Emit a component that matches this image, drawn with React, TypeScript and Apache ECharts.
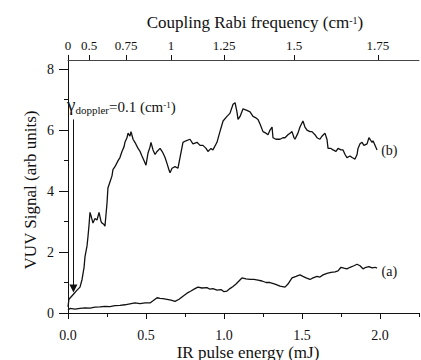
import React, { useEffect, useRef } from "react";
import * as echarts from "echarts";

// IR pulse energy (mJ) and VUV signal for trace (b)
const energyB = [0, 0.006, 0.032, 0.058, 0.077, 0.09, 0.103, 0.109, 0.122, 0.128, 0.135, 0.141, 0.147, 0.16, 0.173, 0.186, 0.199, 0.212, 0.218, 0.231, 0.237, 0.25, 0.256, 0.269, 0.282, 0.288, 0.301, 0.321, 0.333, 0.346, 0.359, 0.365, 0.378, 0.385, 0.397, 0.404, 0.417, 0.429, 0.449, 0.462, 0.474, 0.487, 0.5, 0.513, 0.526, 0.532, 0.545, 0.558, 0.571, 0.59, 0.603, 0.609, 0.622, 0.635, 0.647, 0.654, 0.667, 0.686, 0.705, 0.718, 0.737, 0.756, 0.782, 0.801, 0.827, 0.846, 0.865, 0.885, 0.897, 0.917, 0.929, 0.955, 0.974, 0.994, 1.019, 1.038, 1.058, 1.071, 1.083, 1.09, 1.103, 1.122, 1.147, 1.167, 1.186, 1.205, 1.218, 1.231, 1.25, 1.269, 1.282, 1.295, 1.308, 1.314, 1.333, 1.359, 1.378, 1.391, 1.41, 1.423, 1.436, 1.449, 1.455, 1.474, 1.487, 1.506, 1.519, 1.532, 1.551, 1.564, 1.583, 1.596, 1.615, 1.628, 1.647, 1.66, 1.667, 1.686, 1.699, 1.718, 1.731, 1.75, 1.763, 1.776, 1.788, 1.808, 1.821, 1.84, 1.853, 1.859, 1.872, 1.885, 1.897, 1.917, 1.929, 1.936, 1.949, 1.955, 1.968, 1.981];
const signalB = [0.2, 0.45, 0.6, 0.75, 0.85, 1.1, 1.5, 1.85, 2.2, 2.5, 2.9, 3.3, 3.2, 2.95, 3.1, 3.05, 3.3, 3.0, 2.95, 2.9, 2.85, 3.6, 4.1, 4.3, 4.5, 4.7, 4.8, 5.0, 5.1, 5.3, 5.45, 5.6, 5.75, 5.9, 5.8, 5.95, 5.7, 5.6, 5.4, 5.3, 5.15, 5.0, 4.85, 5.25, 5.45, 5.6, 5.35, 5.2, 5.3, 5.4, 5.3, 5.25, 5.1, 4.9, 4.7, 4.6, 4.75, 4.8, 4.75, 5.1, 5.6, 5.65, 5.7, 5.55, 5.6, 5.5, 5.5, 5.4, 5.3, 5.4, 5.35, 5.6, 5.95, 6.3, 6.45, 6.55, 6.85, 6.9, 6.6, 6.35, 6.45, 6.7, 6.65, 6.6, 6.45, 6.4, 6.35, 6.2, 5.95, 5.9, 5.85, 6.0, 6.1, 5.75, 5.7, 5.7, 5.75, 5.75, 5.85, 5.9, 5.95, 5.75, 5.7, 5.9, 6.1, 6.3, 6.1, 6.0, 5.95, 5.95, 5.85, 5.75, 5.7, 5.8, 5.9, 5.7, 5.4, 5.4, 5.35, 5.3, 5.4, 5.35, 5.35, 5.2, 5.1, 5.15, 5.1, 5.05, 5.2, 5.4, 5.55, 5.6, 5.5, 5.55, 5.75, 5.7, 5.6, 5.65, 5.5, 5.35];

// IR pulse energy (mJ) and VUV signal for trace (a)
const energyA = [0, 0.013, 0.045, 0.077, 0.109, 0.141, 0.173, 0.205, 0.237, 0.269, 0.301, 0.333, 0.365, 0.397, 0.429, 0.462, 0.494, 0.526, 0.545, 0.571, 0.59, 0.609, 0.635, 0.66, 0.686, 0.712, 0.737, 0.763, 0.788, 0.814, 0.833, 0.859, 0.891, 0.91, 0.929, 0.955, 0.981, 1.0, 1.019, 1.038, 1.058, 1.077, 1.096, 1.115, 1.141, 1.167, 1.192, 1.218, 1.244, 1.269, 1.295, 1.327, 1.359, 1.391, 1.41, 1.436, 1.462, 1.487, 1.506, 1.526, 1.551, 1.571, 1.596, 1.615, 1.635, 1.66, 1.686, 1.712, 1.731, 1.75, 1.769, 1.788, 1.808, 1.833, 1.853, 1.872, 1.891, 1.91, 1.929, 1.949, 1.968, 1.981];
const signalA = [0.1, 0.15, 0.13, 0.15, 0.17, 0.16, 0.19, 0.2, 0.22, 0.21, 0.24, 0.25, 0.27, 0.3, 0.33, 0.31, 0.33, 0.33, 0.4, 0.5, 0.48, 0.47, 0.45, 0.42, 0.38, 0.45, 0.55, 0.65, 0.72, 0.8, 0.85, 0.82, 0.83, 0.78, 0.8, 0.75, 0.77, 0.7, 0.72, 0.8, 0.87, 0.95, 1.05, 1.15, 1.12, 1.1, 1.1, 1.08, 1.05, 1.0, 1.0, 0.95, 0.88, 0.85, 0.95, 1.15, 1.2, 1.25, 1.2, 1.15, 1.1, 1.15, 1.2, 1.18, 1.25, 1.3, 1.33, 1.35, 1.38, 1.5, 1.47, 1.45, 1.5, 1.55, 1.6, 1.55, 1.45, 1.5, 1.52, 1.48, 1.5, 1.47];

// Axis ticks
const energyLabels = [0, 0.5, 1.0, 1.5, 2.0];
const energyMinorTicks = [0.25, 0.75, 1.25, 1.75, 2.25];
const signalLabels = [0, 2, 4, 6, 8];
const signalMinorTicks = [1, 3, 5, 7];
const rabiLabels = ["0", "0.5", "0.75", "1", "1.25", "1.5", "1.75"];
const rabiTickEnergy = [0, 0.135, 0.372, 0.66, 1.0, 1.449, 1.987];

// Annotations
const arrowEnergy = 0.035;
const arrowFrom = 6.35;
const arrowTo = 0.8;
const labelB = { energy: 2.06, signal: 5.33, text: "(b)" };
const labelA = { energy: 2.06, signal: 1.35, text: "(a)" };

const FONT = "Liberation Serif";
const INK = "#111";

type Piece = { text: string; size: number; dy: number };

function measure(text: string, size: number): number {
  const c = document.createElement("canvas").getContext("2d");
  if (!c) return text.length * size * 0.5;
  c.font = `${size}px "${FONT}"`;
  return c.measureText(text).width;
}

// Lays out a run of texts (sub/superscripts) from left x, baseline y
function run(pieces: Piece[], x: number, y: number, align: "left" | "center") {
  const widths = pieces.map((p) => measure(p.text, p.size));
  const total = widths.reduce((a, b) => a + b, 0);
  let cx = align === "center" ? x - total / 2 : x;
  return pieces.map((p, i) => {
    const el = {
      type: "text",
      x: cx,
      y: y + p.dy,
      silent: true,
      style: {
        text: p.text,
        fontSize: p.size,
        fontFamily: FONT,
        fill: INK,
        textAlign: "left",
        textVerticalAlign: "bottom",
      },
    };
    cx += widths[i];
    return el;
  });
}

export default function App() {
  const ref = useRef<HTMLDivElement>(null);
  useEffect(() => {
    if (!ref.current) return;
    const chart = echarts.init(ref.current, null, { renderer: "svg" });
    const pairs = (xs: number[], ys: number[]) => xs.map((x, i) => [x, ys[i]]);
    const labelPoint = (l: { energy: number; signal: number; text: string }) => ({
      coord: [l.energy, l.signal],
      symbol: "circle",
      symbolSize: 1,
      itemStyle: { color: "rgba(0,0,0,0)" },
      label: {
        show: true,
        position: "inside",
        formatter: l.text,
        color: INK,
        fontSize: 14,
        fontFamily: FONT,
      },
    });
    const topTitle = run(
      [
        { text: "Coupling Rabi frequency (cm", size: 17, dy: 0 },
        { text: "-1", size: 10, dy: -6 },
        { text: ")", size: 17, dy: 0 },
      ],
      255,
      31,
      "center"
    );
    const doppler = run(
      [
        { text: "γ", size: 19, dy: 0 },
        { text: "doppler", size: 11, dy: 1 },
        { text: "=0.1 (cm", size: 15, dy: 0 },
        { text: "-1", size: 9, dy: -5 },
        { text: ")", size: 15, dy: 0 },
      ],
      67,
      114,
      "left"
    );
    chart.setOption({
      animation: false,
      backgroundColor: "#fff",
      textStyle: { fontFamily: FONT },
      grid: { left: 68, right: 2, top: 60, bottom: 47, containLabel: false, outerBoundsMode: "none" },
      xAxis: [
        {
          type: "value",
          position: "bottom",
          min: 0,
          max: 2.25,
          interval: 0.25,
          axisLine: { show: true, lineStyle: { color: INK, width: 1 } },
          axisTick: { show: true, length: 6, customValues: energyLabels, lineStyle: { color: INK } },
          axisLabel: {
            customValues: energyLabels,
            formatter: (v: number) => v.toFixed(1),
            color: INK,
            fontSize: 14,
            fontFamily: FONT,
            margin: 15,
          },
          splitLine: { show: false },
        },
        {
          type: "value",
          position: "top",
          min: 0,
          max: 2.25,
          interval: 0.25,
          axisLine: { show: true, onZero: false, lineStyle: { color: "#444", width: 1 } },
          axisTick: { show: true, length: 5, customValues: rabiTickEnergy, lineStyle: { color: INK } },
          axisLabel: {
            customValues: rabiTickEnergy,
            formatter: (v: number) => {
              const i = rabiTickEnergy.findIndex((e) => Math.abs(e - v) < 1e-6);
              return i >= 0 ? rabiLabels[i] : "";
            },
            color: INK,
            fontSize: 13,
            fontFamily: FONT,
            margin: 8,
          },
          splitLine: { show: false },
        },
        {
          type: "value",
          position: "bottom",
          min: 0,
          max: 2.25,
          interval: 0.25,
          axisLine: { show: false },
          axisTick: { show: true, length: 4, customValues: energyMinorTicks, lineStyle: { color: INK } },
          axisLabel: { show: false },
          splitLine: { show: false },
        },
      ],
      yAxis: [
        {
          type: "value",
          position: "left",
          min: 0,
          max: 8.3,
          interval: 1,
          axisLine: { show: true, onZero: false, lineStyle: { color: INK, width: 1 } },
          axisTick: { show: true, length: 9, customValues: signalLabels, lineStyle: { color: INK } },
          axisLabel: {
            customValues: signalLabels,
            color: INK,
            fontSize: 14,
            fontFamily: FONT,
            margin: 14,
          },
          splitLine: { show: false },
        },
        {
          type: "value",
          position: "left",
          min: 0,
          max: 8.3,
          interval: 1,
          axisLine: { show: false },
          axisTick: { show: true, length: 4, customValues: signalMinorTicks, lineStyle: { color: INK } },
          axisLabel: { show: false },
          splitLine: { show: false },
        },
      ],
      series: [
        {
          type: "line",
          name: "b",
          data: pairs(energyB, signalB),
          showSymbol: false,
          symbol: "none",
          lineStyle: { color: INK, width: 1.3 },
          markPoint: { silent: true, data: [labelPoint(labelB)] },
        },
        {
          type: "line",
          name: "a",
          data: pairs(energyA, signalA),
          showSymbol: false,
          symbol: "none",
          lineStyle: { color: INK, width: 1.3 },
          markPoint: { silent: true, data: [labelPoint(labelA)] },
          markLine: {
            silent: true,
            symbol: ["none", "triangle"],
            symbolSize: 8,
            label: { show: false },
            lineStyle: { color: INK, width: 1, type: "solid" },
            data: [[{ coord: [arrowEnergy, arrowFrom] }, { coord: [arrowEnergy, arrowTo] }]],
          },
        },
      ],
      graphic: [
        ...topTitle,
        ...doppler,
        {
          type: "text",
          x: 248,
          y: 352,
          style: {
            text: "IR pulse energy (mJ)",
            fontSize: 17,
            fontFamily: FONT,
            fill: INK,
            textAlign: "center",
            textVerticalAlign: "middle",
          },
        },
        {
          type: "text",
          x: 30,
          y: 190,
          rotation: Math.PI / 2,
          style: {
            text: "VUV Signal (arb units)",
            fontSize: 17,
            fontFamily: FONT,
            fill: INK,
            textAlign: "center",
            textVerticalAlign: "middle",
          },
        },
      ],
    });
    return () => chart.dispose();
  }, []);
  return (
    <div
      ref={ref}
      style={{ position: "absolute", left: 0, top: 0, width: 421, height: 360 }}
    />
  );
}
